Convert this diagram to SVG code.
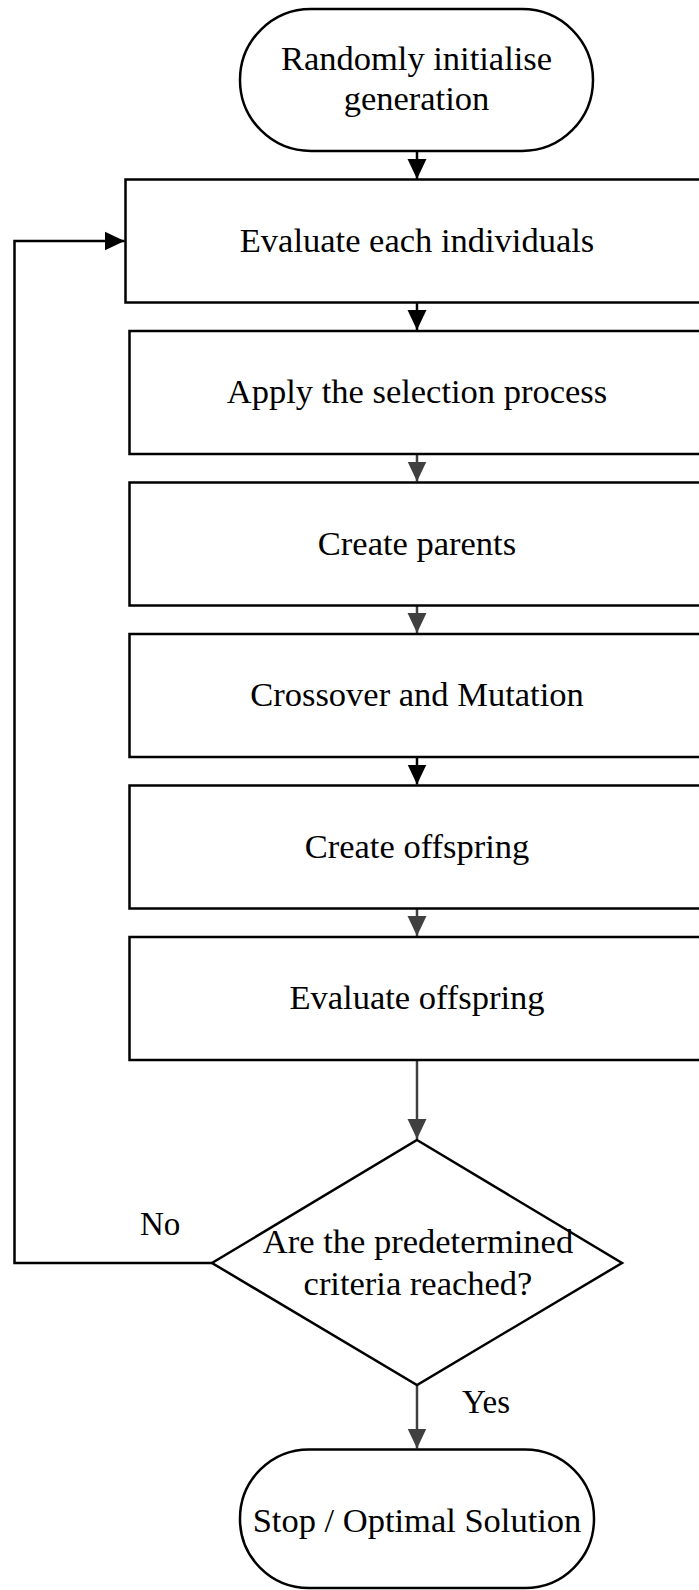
<svg xmlns="http://www.w3.org/2000/svg" width="699" height="1590" viewBox="0 0 699 1590">
<style>
.s{fill:#fff;stroke:#000;stroke-width:2.5}
.t{font-family:"Liberation Serif","Times New Roman",serif;font-size:34.5px;fill:#000;text-anchor:middle}
.l{font-family:"Liberation Serif","Times New Roman",serif;font-size:33px;fill:#000}
.k{fill:none;stroke:#000;stroke-width:2.5}
.g{fill:none;stroke:#404040;stroke-width:2.5}
</style>
<defs>
<marker id="ak" markerUnits="userSpaceOnUse" markerWidth="20" markerHeight="20" viewBox="0 0 19 18" refX="19" refY="9" orient="auto"><path d="M0,0 L19,9 L0,18 Z" fill="#000"/></marker>
<marker id="ag" markerUnits="userSpaceOnUse" markerWidth="20" markerHeight="20" viewBox="0 0 19 18" refX="19" refY="9" orient="auto"><path d="M0,0 L19,9 L0,18 Z" fill="#404040"/></marker>
</defs>
<g id="connectors">
<line class="k" x1="417" y1="151" x2="417" y2="179" marker-end="url(#ak)"/>
<line class="k" x1="417" y1="302.5" x2="417" y2="330" marker-end="url(#ak)"/>
<line class="g" x1="417" y1="454" x2="417" y2="481.5" marker-end="url(#ag)"/>
<line class="g" x1="417" y1="605.5" x2="417" y2="633" marker-end="url(#ag)"/>
<line class="k" x1="417" y1="757" x2="417" y2="784.5" marker-end="url(#ak)"/>
<line class="g" x1="417" y1="908.5" x2="417" y2="936" marker-end="url(#ag)"/>
<line class="g" x1="417" y1="1060" x2="417" y2="1139" marker-end="url(#ag)"/>
<line class="g" x1="417" y1="1385" x2="417" y2="1448.5" marker-end="url(#ag)"/>
<polyline class="k" points="212,1263 14.5,1263 14.5,241 124.5,241" marker-end="url(#ak)"/>
<text class="l" x="140" y="1235">No</text>
<text class="l" x="462" y="1413">Yes</text>
</g>
<g id="start">
<rect class="s" x="240" y="9" width="353" height="142" rx="71" ry="71"/>
<text class="t" x="416.5" y="70">Randomly initialise</text>
<text class="t" x="416.5" y="110">generation</text>
</g>
<g id="evaluate">
<rect class="s" x="125.5" y="179.5" width="600" height="123"/>
<text class="t" x="417" y="251.5">Evaluate each individuals</text>
</g>
<g id="selection">
<rect class="s" x="129.5" y="331" width="600" height="123"/>
<text class="t" x="417" y="403">Apply the selection process</text>
</g>
<g id="parents">
<rect class="s" x="129.5" y="482.5" width="600" height="123"/>
<text class="t" x="417" y="554.5">Create parents</text>
</g>
<g id="crossover">
<rect class="s" x="129.5" y="634" width="600" height="123"/>
<text class="t" x="417" y="706">Crossover and Mutation</text>
</g>
<g id="offspring">
<rect class="s" x="129.5" y="785.5" width="600" height="123"/>
<text class="t" x="417" y="857.5">Create offspring</text>
</g>
<g id="evaloffspring">
<rect class="s" x="129.5" y="937" width="600" height="123"/>
<text class="t" x="417" y="1009">Evaluate offspring</text>
</g>
<g id="decision">
<polygon class="s" points="417,1140 622,1263 417,1385 212,1263"/>
<text class="t" x="418" y="1253">Are the predetermined</text>
<text class="t" x="418" y="1295">criteria reached?</text>
</g>
<g id="stop">
<rect class="s" x="240" y="1449.5" width="354" height="138.5" rx="69" ry="69"/>
<text class="t" x="417" y="1531.5">Stop / Optimal Solution</text>
</g>
</svg>
